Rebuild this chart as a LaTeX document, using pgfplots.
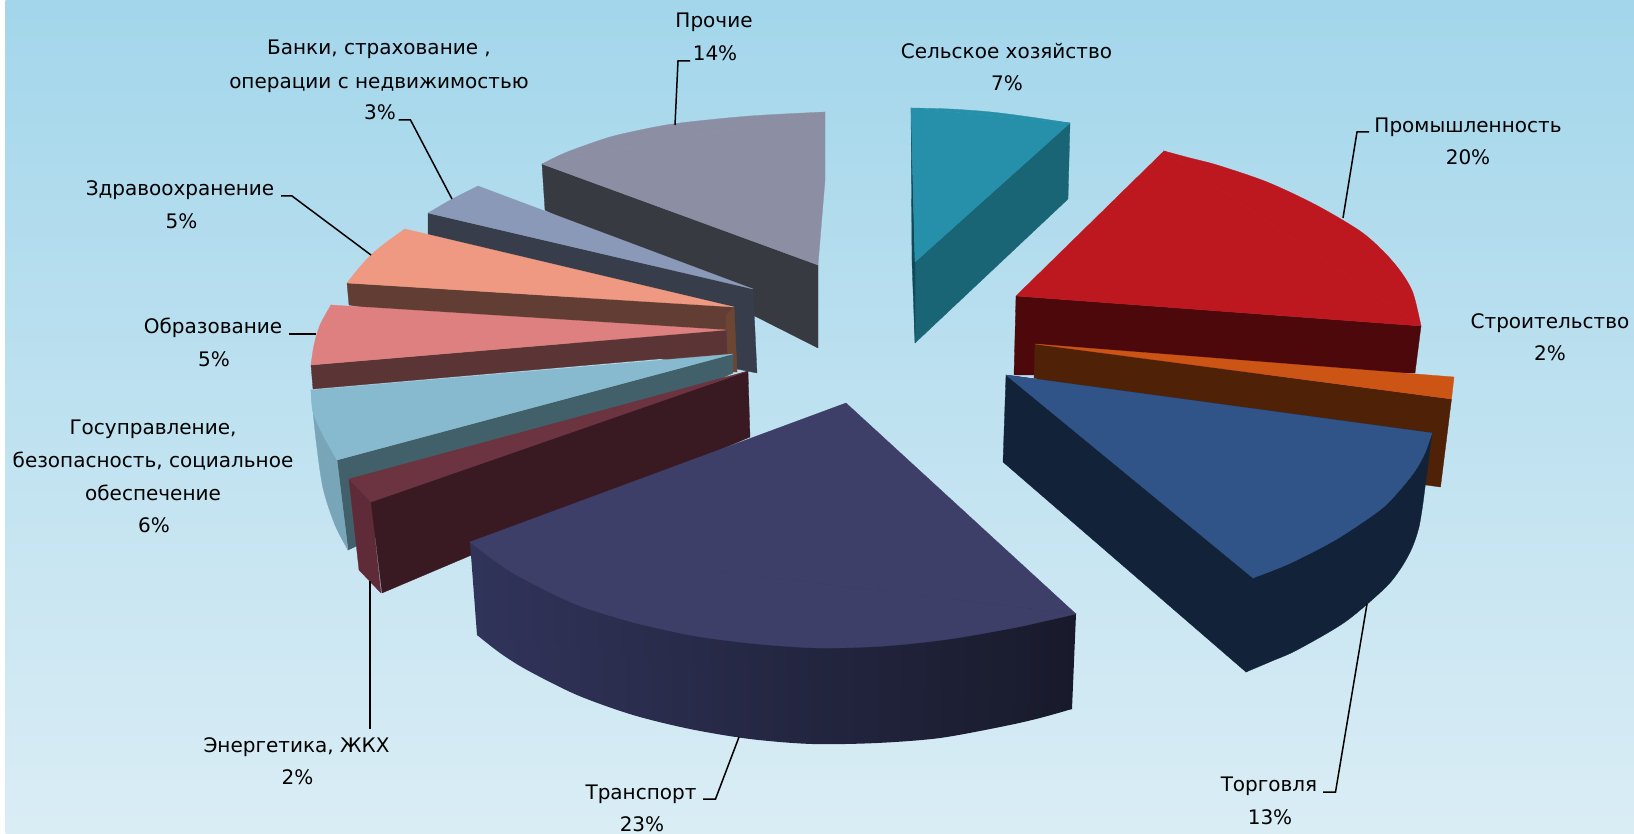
\documentclass[border=0pt]{standalone}
\usepackage{fontspec}
\setmainfont{DejaVu Sans}
\usepackage{pgfplots}
\pgfplotsset{compat=1.18}

% filled polygon, coordinates in reference pixels
\newcommand\poly[2]{\addplot[draw=#1,line width=0.15pt,fill=#1] coordinates {#2} --cycle;}
% curved rim of a slice: the points read along the rim, closed by its chord
\newcommand\rim[2]{\addplot[smooth,draw=#1,line width=0.15pt,fill=#1] coordinates {#2} --cycle;}
% leader line of a label
\newcommand\lead[1]{\addplot[black,line width=0.75pt] coordinates {#1};}
\newcommand\lab[2]{\node[anchor=base,inner sep=0pt,text=black,font=\fontsize{10}{12}\selectfont] at (axis cs:#1) {#2};}

\definecolor{prochTop}{HTML}{8C8FA3}
\definecolor{prochSide}{HTML}{383A42}
\definecolor{bankTop}{HTML}{8A99B8}
\definecolor{bankSide}{HTML}{373D4B}
\definecolor{healthTop}{HTML}{EF9882}
\definecolor{healthSide}{HTML}{613D33}
\definecolor{healthEnd}{HTML}{6C4533}
\definecolor{eduTop}{HTML}{DF8080}
\definecolor{eduSide}{HTML}{5B3435}
\definecolor{govTop}{HTML}{88BACF}
\definecolor{govOuter}{HTML}{78A5B8}
\definecolor{govSide}{HTML}{42606A}
\definecolor{enTop}{HTML}{6C3340}
\definecolor{enEnd}{HTML}{5F2B38}
\definecolor{enSide}{HTML}{3A1A22}
\definecolor{trTop}{HTML}{3E3F68}
\definecolor{trLeft}{HTML}{31345A}
\definecolor{trRight}{HTML}{181A2B}
\definecolor{agrTop}{HTML}{268FA9}
\definecolor{agrSide}{HTML}{196576}
\definecolor{agrEdge}{HTML}{0F4A58}
\definecolor{indTop}{HTML}{BD1820}
\definecolor{indSide}{HTML}{4D080B}
\definecolor{conTop}{HTML}{CC5515}
\definecolor{conSide}{HTML}{4F2107}
\definecolor{tradeTop}{HTML}{305487}
\definecolor{tradeSide}{HTML}{112239}
\definecolor{bgTop}{HTML}{A3D6EB}
\definecolor{bgBottom}{HTML}{DAEDF5}

\begin{document}
\begin{tikzpicture}
\begin{axis}[
  scale only axis,
  width=817pt,
  height=417pt,
  xmin=0, xmax=1634,
  ymin=0, ymax=834,
  y dir=reverse,
  hide axis,
  clip=false,
]
% background
\addplot[draw=none,fill=white] coordinates {(0,0) (6,0) (6,834) (0,834)} --cycle;
\addplot[draw=none,top color=bgTop,bottom color=bgBottom] coordinates {(5.5,0) (1634,0) (1634,834) (5.5,834)} --cycle;

% Прочие
\poly{prochSide}{(542,164) (818,265) (818,348) (545,210)}
\poly{prochTop}{(542,164) (825,112) (825,180) (818,265)}
\rim{prochTop}{(542,164) (558,156) (575,149) (610,137) (645,129) (680,123) (750,116) (825,112)}
% Банки
\poly{bankSide}{(428,213) (753,289) (757,373) (737,369) (428,235)}
\poly{bankTop}{(428,213) (452,199) (478,186) (753,289)}
% Здравоохранение
\poly{healthSide}{(347,283) (734,307) (737,372) (349,305)}
\poly{healthEnd}{(726,315) (734,307) (737,372) (727,372)}
\poly{healthTop}{(405,229) (347,283) (734,307)}
\rim{healthTop}{(405,229) (388,241) (372,254) (359,268) (347,283)}
% Образование
\poly{eduSide}{(311,365) (726,330) (727,353) (313,389)}
\poly{eduTop}{(331,305) (311,365) (726,330)}
\rim{eduTop}{(331,305) (320,325) (314,345) (311,365)}
% Госуправление
\poly{govSide}{(337,460) (733,354) (733,373) (348,550)}
\poly{govOuter}{(311,390) (348,550) (337,460)}
\rim{govOuter}{(311,390) (316,440) (323,488) (335,525) (348,550)}
\poly{govTop}{(311,390) (337,460) (733,354)}
\rim{govTop}{(311,390) (313,412) (323,435) (337,460)}
% Энергетика
\poly{enEnd}{(349,479) (371,502) (381,593) (359,570)}
\poly{enSide}{(371,502) (748,371) (750,437) (382,593)}
\poly{enTop}{(349,479) (371,502) (748,371)}
% Транспорт
\addplot[draw=none,left color=trLeft,right color=trRight] coordinates {
  (470,542) (477,635) (780,735) (1072,709) (1076,614) (820,560)} --cycle;
\addplot[smooth,draw=none,left color=trLeft,right color=trRight] coordinates {
  (477,635) (500,653) (527,670) (577,695) (633,715) (690,729) (750,739) (812,744) (877,743)
  (940,738) (1005,726) (1040,718) (1072,709)} --cycle;
\poly{trTop}{(470,542) (1076,614) (846,403)}
\rim{trTop}{(470,542) (495,561) (520,577) (575,604) (632,622) (695,636) (758,644) (820,648)
  (885,646) (950,639) (1013,628) (1045,621) (1076,614)}
% Сельское хозяйство
\poly{agrSide}{(915,262) (1070,123) (1068,199) (915,343)}
\poly{agrEdge}{(911,108) (915,262) (915,343) (912,262)}
\poly{agrTop}{(911,108) (1070,123) (915,262)}
\rim{agrTop}{(911,108) (950,109) (991,112) (1030,117) (1070,123)}
% Промышленность
\poly{indSide}{(1016,296) (1421,326) (1415,373) (1014,375)}
\poly{indTop}{(1164,151) (1421,326) (1016,296)}
\rim{indTop}{(1164,151) (1190,158) (1217,165) (1267,182) (1316,205) (1360,231) (1384,252) (1401,272) (1413,293) (1421,326)}
% Строительство
\poly{conSide}{(1035,344) (1451.5,399) (1440.5,487) (1426,485) (1034,378)}
\poly{conTop}{(1035,344) (1454,377) (1451.5,399)}
% Торговля
\poly{tradeSide}{(1006,375) (1003,462) (1246,672) (1340,600) (1423,503) (1432,433)}
\rim{tradeSide}{(1246,672) (1272,661) (1297,650) (1345,622) (1385,588) (1401,568) (1412,548) (1419,527) (1423,503)}
\poly{tradeTop}{(1006,375) (1432,433) (1253,578)}
\rim{tradeTop}{(1432,433) (1425,453) (1415,471) (1399,491) (1380,510) (1337,539) (1295,561) (1274,570) (1253,578)}

% leader lines
\lead{(675,125) (678,61) (690,61)}
\lead{(452,199) (410.5,120) (398.5,120)}
\lead{(371,255) (292,196) (281,196)}
\lead{(316,334) (289,334)}
\lead{(370,581) (370,729)}
\lead{(739,737) (715.5,799) (703,799)}
\lead{(1367,604) (1335.5,792) (1323,792)}
\lead{(1343,218) (1357,132) (1369,132)}

% labels, placed by their baselines
\lab{714,27.7}{Прочие}
\lab{715,61}{14\%}
\lab{379,55}{Банки, страхование ,}
\lab{379,88.3}{операции с недвижимостью}
\lab{380,119.3}{3\%}
\lab{180,195.7}{Здравоохранение}
\lab{181.5,229}{5\%}
\lab{213,334}{Образование}
\lab{214,366.7}{5\%}
\lab{153,434.7}{Госуправление,}
\lab{153,467.3}{безопасность, социальное}
\lab{153,500}{обеспечение}
\lab{154,532.7}{6\%}
\lab{296.5,752}{Энергетика, ЖКХ}
\lab{297.5,784.7}{2\%}
\lab{641,799}{Транспорт}
\lab{642,831}{23\%}
\lab{1269,791.7}{Торговля}
\lab{1270,824.7}{13\%}
\lab{1550,328.3}{Строительство}
\lab{1550,360.7}{2\%}
\lab{1468,132.3}{Промышленность}
\lab{1468,165}{20\%}
\lab{1006.5,58.3}{Сельское хозяйство}
\lab{1007,91}{7\%}
\end{axis}
\end{tikzpicture}
\end{document}
